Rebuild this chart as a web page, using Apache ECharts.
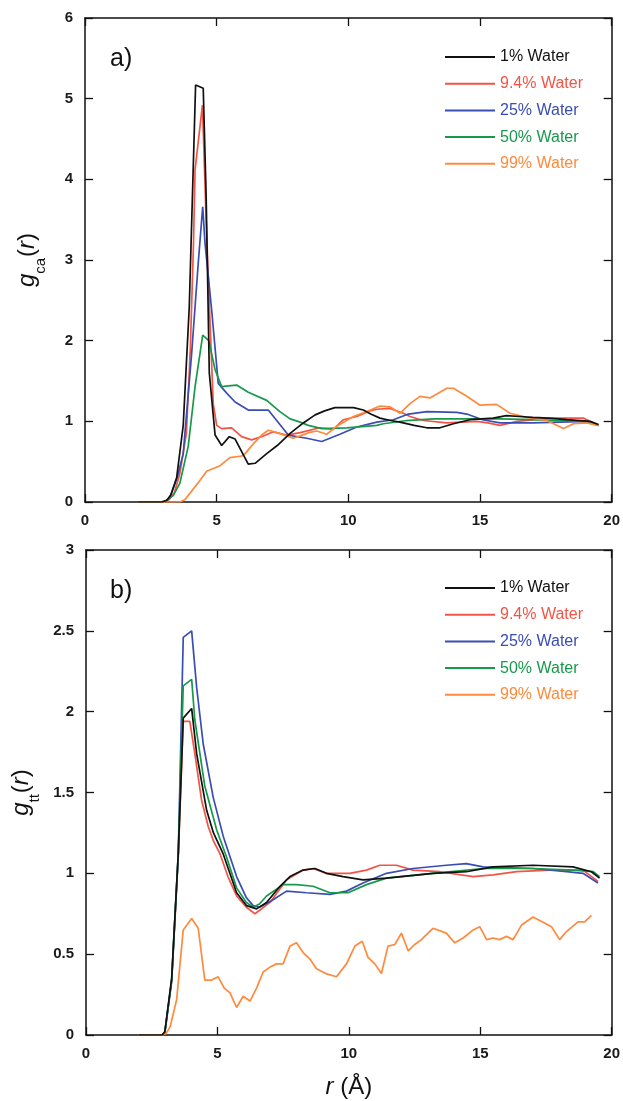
<!DOCTYPE html>
<html>
<head>
<meta charset="utf-8">
<script src="https://cdn.jsdelivr.net/npm/echarts@6/dist/echarts.min.js"></script>
<style>html,body{margin:0;padding:0;background:#fff}#c{width:623px;height:1101px}</style>
</head>
<body>
<div id="c"></div>
<script>
// ---- data (r in Å, g(r)) ----
const seriesNames = ['1% Water', '9.4% Water', '25% Water', '50% Water', '99% Water'];
const seriesColors = ['#111111', '#f25446', '#3a4db3', '#17994c', '#ff8a3c'];
const xTicks = [0, 5, 10, 15, 20];
const yTicksA = [0, 1, 2, 3, 4, 5, 6];
const yTicksB = [0, 0.5, 1, 1.5, 2, 2.5, 3];

// panel a) g_ca(r)
const ca_1 = [[2.0,0],[2.9,0],[3.1,0.02],[3.25,0.08],[3.48,0.3],[3.73,0.95],[3.96,2.42],[4.2,5.17],[4.49,5.13],[4.6,3.8],[4.72,1.6],[4.94,0.83],[5.19,0.70],[5.48,0.81],[5.7,0.78],[6.2,0.47],[6.46,0.48],[6.9,0.60],[7.3,0.70],[7.79,0.85],[8.29,0.98],[8.74,1.08],[9.1,1.13],[9.49,1.17],[10.2,1.17],[10.57,1.14],[10.85,1.09],[11.2,1.04],[11.6,1.01],[11.96,0.99],[12.5,0.95],[12.98,0.92],[13.48,0.92],[13.99,0.97],[14.62,1.02],[15.5,1.04],[16.0,1.07],[16.5,1.06],[17.0,1.05],[17.6,1.04],[18.3,1.02],[19.18,1.0],[19.5,0.96]];
const ca_2 = [[2.0,0],[3.0,0],[3.2,0.03],[3.4,0.12],[3.6,0.35],[3.85,0.85],[4.0,1.9],[4.12,3.2],[4.18,4.12],[4.46,4.92],[4.6,3.5],[4.72,2.46],[4.87,1.22],[5.0,0.95],[5.19,0.91],[5.57,0.92],[5.95,0.81],[6.33,0.77],[6.71,0.81],[7.15,0.87],[7.66,0.83],[8.17,0.86],[8.92,0.92],[9.43,0.9],[9.81,1.02],[10.32,1.06],[10.82,1.13],[11.08,1.15],[11.58,1.16],[12.09,1.10],[12.34,1.06],[12.85,1.01],[13.73,0.98],[14.88,1.0],[15.3,0.98],[15.76,0.95],[16.4,1.0],[17.66,1.04],[18.92,1.04],[19.5,0.95]];
const ca_3 = [[2.0,0],[3.0,0],[3.15,0.03],[3.3,0.12],[3.5,0.3],[3.73,0.6],[4.05,1.84],[4.3,2.96],[4.47,3.66],[4.56,3.2],[4.81,2.38],[5.06,1.47],[5.38,1.35],[5.7,1.24],[6.2,1.14],[6.96,1.14],[7.72,0.83],[8.42,0.79],[8.99,0.75],[9.68,0.84],[10.32,0.93],[11.08,0.99],[11.71,1.02],[12.28,1.09],[12.98,1.12],[14.12,1.11],[14.5,1.09],[15.1,1.02],[15.76,0.98],[17.0,0.98],[19.05,1.0],[19.5,0.95]];
const ca_4 = [[2.0,0],[3.0,0],[3.1,0.02],[3.35,0.08],[3.6,0.23],[3.92,0.69],[4.18,1.43],[4.47,2.07],[4.7,2.0],[4.94,1.64],[5.19,1.43],[5.45,1.44],[5.76,1.45],[6.2,1.36],[6.9,1.26],[7.4,1.12],[7.79,1.03],[8.17,0.99],[8.48,0.95],[8.99,0.91],[9.94,0.92],[11.08,0.95],[11.33,0.97],[12.22,1.01],[13.23,1.03],[15.76,1.03],[17.0,1.02],[18.92,1.0],[19.5,0.95]];
const ca_5 = [[2.0,0],[3.0,0],[3.6,0],[3.8,0.03],[3.99,0.11],[4.37,0.27],[4.62,0.38],[4.75,0.4],[5.13,0.45],[5.5,0.55],[5.95,0.57],[6.08,0.6],[6.39,0.72],[6.71,0.83],[6.96,0.89],[7.09,0.88],[7.28,0.86],[7.66,0.82],[7.91,0.79],[8.17,0.82],[8.5,0.86],[8.8,0.88],[9.18,0.84],[9.56,0.94],[10.19,1.06],[10.7,1.12],[11.2,1.19],[11.58,1.18],[11.96,1.10],[12.34,1.22],[12.72,1.31],[13.1,1.29],[13.74,1.41],[13.99,1.41],[14.5,1.31],[15.0,1.2],[15.63,1.21],[16.14,1.10],[16.77,1.05],[17.53,1.01],[18.17,0.91],[18.55,0.97],[19.05,0.98],[19.5,0.95]];

// panel b) g_tt(r)
const tt_1 = [[2.0,0],[2.9,0],[3.0,0.02],[3.26,0.35],[3.51,1.12],[3.70,1.96],[4.02,2.02],[4.21,1.74],[4.59,1.39],[4.85,1.25],[5.22,1.12],[5.73,0.88],[6.11,0.80],[6.49,0.78],[6.87,0.82],[7.38,0.92],[7.76,0.98],[8.26,1.02],[8.71,1.03],[9.15,1.0],[9.78,0.98],[10.54,0.96],[11.43,0.97],[13.2,1.0],[14.47,1.01],[15.49,1.04],[17.0,1.05],[18.53,1.04],[19.23,1.01],[19.54,0.97]];
const tt_2 = [[2.0,0],[2.9,0],[3.0,0.02],[3.26,0.33],[3.51,1.1],[3.70,1.94],[3.95,1.94],[4.14,1.74],[4.4,1.45],[4.65,1.29],[4.85,1.2],[5.1,1.12],[5.4,0.98],[5.73,0.86],[6.1,0.79],[6.43,0.75],[7.0,0.82],[7.63,0.96],[8.26,1.02],[8.64,1.03],[9.15,1.0],[10.04,1.0],[10.67,1.02],[11.18,1.05],[11.81,1.05],[12.44,1.02],[13.46,1.01],[14.73,0.98],[15.49,0.99],[16.38,1.01],[17.64,1.02],[18.91,1.02],[19.48,0.95]];
const tt_3 = [[2.0,0],[2.9,0],[3.0,0.01],[3.26,0.34],[3.51,1.12],[3.70,2.46],[4.02,2.5],[4.21,2.15],[4.46,1.80],[4.84,1.47],[5.22,1.23],[5.73,0.98],[6.1,0.85],[6.36,0.80],[6.6,0.79],[7.06,0.83],[7.63,0.89],[8.39,0.88],[9.28,0.87],[9.91,0.89],[10.54,0.94],[11.43,1.0],[12.44,1.03],[13.71,1.05],[14.47,1.06],[15.11,1.04],[17.0,1.03],[18.28,1.01],[18.91,1.0],[19.48,0.94]];
const tt_4 = [[2.0,0],[2.9,0],[3.0,0.02],[3.26,0.34],[3.51,1.12],[3.70,2.16],[4.02,2.2],[4.14,1.95],[4.52,1.54],[4.97,1.27],[5.35,1.1],[5.73,0.91],[6.1,0.82],[6.36,0.79],[6.6,0.81],[6.87,0.86],[7.5,0.93],[8.01,0.93],[8.64,0.92],[9.28,0.88],[9.97,0.88],[10.67,0.93],[11.43,0.97],[13.2,1.0],[15.11,1.03],[17.0,1.03],[18.53,1.02],[19.3,1.01],[19.54,0.98]];
const tt_5 = [[2.0,0],[2.9,0],[3.05,0.01],[3.2,0.05],[3.45,0.22],[3.7,0.65],[4.02,0.72],[4.27,0.66],[4.52,0.34],[4.78,0.34],[5.03,0.36],[5.26,0.29],[5.48,0.26],[5.73,0.17],[5.98,0.24],[6.24,0.21],[6.49,0.29],[6.74,0.39],[7.0,0.42],[7.25,0.44],[7.5,0.44],[7.76,0.55],[8.01,0.57],[8.26,0.51],[8.52,0.47],[8.77,0.41],[9.12,0.38],[9.53,0.36],[9.91,0.44],[10.23,0.55],[10.51,0.58],[10.73,0.48],[10.99,0.44],[11.24,0.38],[11.49,0.55],[11.75,0.56],[12.0,0.63],[12.26,0.52],[12.51,0.56],[12.76,0.59],[13.2,0.66],[13.71,0.63],[14.03,0.57],[14.35,0.6],[14.73,0.65],[14.98,0.67],[15.24,0.59],[15.49,0.6],[15.74,0.59],[16.0,0.61],[16.25,0.59],[16.57,0.68],[17.01,0.73],[17.71,0.67],[18.02,0.59],[18.28,0.64],[18.72,0.70],[18.97,0.70],[19.23,0.74]];

const panelA = [ca_1, ca_2, ca_3, ca_4, ca_5];
const panelB = [tt_1, tt_2, tt_3, tt_4, tt_5];

// ---- chart ----
const FONT = 'Liberation Sans, Arial, sans-serif';
const chart = echarts.init(document.getElementById('c'), null, {renderer: 'canvas'});

function baseX(gridIndex, pos, showLabels, name) {
  return {
    type: 'value', gridIndex, position: pos, min: xTicks[0], max: xTicks[xTicks.length - 1],
    interval: xTicks[1] - xTicks[0],
    axisLine: {show: true, onZero: false, lineStyle: {color: '#111', width: 1.5}},
    axisTick: {show: true, inside: true, length: 8, lineStyle: {color: '#111', width: 1.3}},
    axisLabel: {show: showLabels, margin: 11, color: '#1a1a1a', fontSize: 15, fontWeight: 'bold', fontFamily: FONT},
    splitLine: {show: false},
    name: name || '', nameLocation: 'middle', nameGap: 40,
    nameTextStyle: {color: '#111', fontFamily: FONT, rich: {
      i: {fontStyle: 'italic', fontSize: 24, fontFamily: FONT, color: '#111'},
      n: {fontSize: 24, fontFamily: FONT, color: '#111'}
    }}
  };
}
function baseY(gridIndex, pos, showLabels, ticks, name) {
  return {
    type: 'value', gridIndex, position: pos, min: ticks[0], max: ticks[ticks.length - 1],
    interval: ticks[1] - ticks[0],
    axisLine: {show: true, onZero: false, lineStyle: {color: '#111', width: 1.5}},
    axisTick: {show: true, inside: true, length: 8, lineStyle: {color: '#111', width: 1.3}},
    axisLabel: {show: showLabels, margin: 12, color: '#1a1a1a', fontSize: 15, fontWeight: 'bold', fontFamily: FONT},
    splitLine: {show: false},
    name: name || '', nameLocation: 'middle', nameGap: 45, nameRotate: 90,
    nameTextStyle: {color: '#111', fontFamily: FONT, rich: {
      g: {fontStyle: 'italic', fontSize: 24, fontFamily: FONT, color: '#111', lineHeight: 26},
      s: {fontSize: 15, fontFamily: FONT, color: '#111', verticalAlign: 'bottom', lineHeight: 26, padding: [0, 1, -8, 0]},
      p: {fontSize: 24, fontFamily: FONT, color: '#111', lineHeight: 26}
    }}
  };
}

const series = [];
[panelA, panelB].forEach((panel, pi) => {
  panel.forEach((data, si) => {
    series.push({
      name: seriesNames[si], type: 'line', data,
      xAxisIndex: pi * 2, yAxisIndex: pi * 2,
      symbol: 'none', smooth: false, animation: false,
      lineStyle: {color: seriesColors[si], width: 1.7},
      itemStyle: {color: seriesColors[si]},
      z: si === 0 ? 3 : 2
    });
  });
});

function legendAt(top) {
  return {
    orient: 'vertical', left: 440, top, itemWidth: 50, itemHeight: 14, itemGap: 10.7,
    selectedMode: false,
    icon: 'path://M0,6 L50,6 L50,8 L0,8 Z',
    textStyle: {fontSize: 16, fontFamily: FONT},
    data: seriesNames.map((n, i) => ({name: n, itemStyle: {color: seriesColors[i]}, textStyle: {color: seriesColors[i]}}))
  };
}

chart.setOption({
  backgroundColor: '#fff',
  animation: false,
  title: [
    {text: 'a)', left: 105, top: 42, textStyle: {fontSize: 25, fontWeight: 'normal', fontFamily: FONT, color: '#111'}},
    {text: 'b)', left: 105, top: 574, textStyle: {fontSize: 25, fontWeight: 'normal', fontFamily: FONT, color: '#111'}}
  ],
  legend: [legendAt(44), legendAt(575)],
  grid: [
    {left: 85, right: 11, top: 18, height: 484},
    {left: 86, right: 11, top: 550, height: 485}
  ],
  xAxis: [
    baseX(0, 'bottom', true),
    baseX(0, 'top', false),
    baseX(1, 'bottom', true, '{i|r}{n| (Å)}'),
    baseX(1, 'top', false)
  ],
  yAxis: [
    baseY(0, 'left', true, yTicksA, '{g|g}{s|ca}{p|(}{g|r}{p|)}'),
    baseY(0, 'right', false, yTicksA),
    baseY(1, 'left', true, yTicksB, '{g|g}{s|tt}{p|(}{g|r}{p|)}'),
    baseY(1, 'right', false, yTicksB)
  ],
  series
});
</script>
</body>
</html>
